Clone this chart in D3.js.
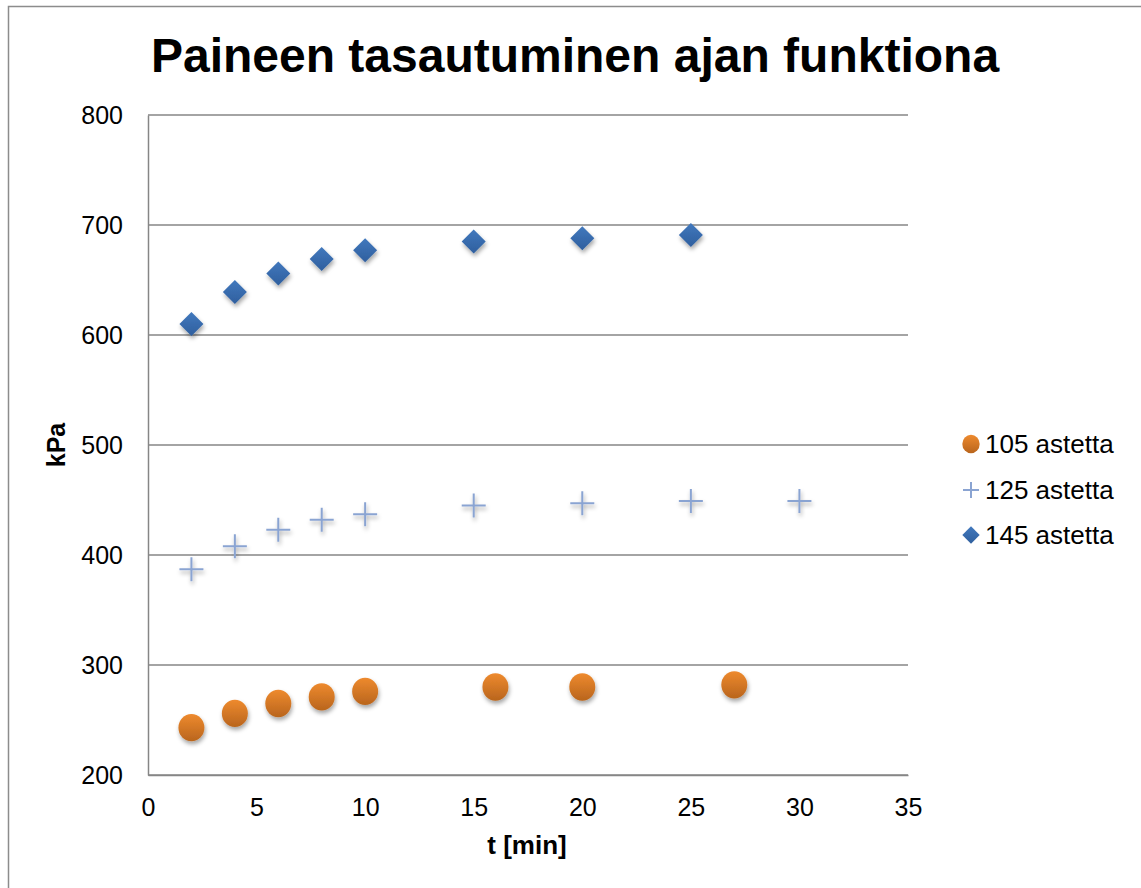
<!DOCTYPE html>
<html>
<head>
<meta charset="utf-8">
<script src="https://cdn.jsdelivr.net/npm/d3@7"></script>
<style>
  body { margin: 0; background: #fff; }
  text { font-family: "Liberation Sans", Arial, sans-serif; }
</style>
</head>
<body>
<svg id="chart" width="1141" height="888"></svg>
<script>
// data
const seriesNames = ["105 astetta", "125 astetta", "145 astetta"];
const t105 = [2, 4, 6, 8, 10, 16, 20, 27];
const p105 = [243, 256, 265, 271, 276, 280, 280, 282];
const t125 = [2, 4, 6, 8, 10, 15, 20, 25, 30];
const p125 = [387, 408, 423, 432, 437, 445, 447, 449, 449];
const t145 = [2, 4, 6, 8, 10, 15, 20, 25];
const p145 = [610, 639, 656, 669, 677, 685, 688, 691];
const xTicks = [0, 5, 10, 15, 20, 25, 30, 35];
const yTicks = [200, 300, 400, 500, 600, 700, 800];

const svg = d3.select("#chart");
const margin = { left: 148, top: 115, right: 908, bottom: 775 };

const x = d3.scaleLinear().domain([0, 35]).range([margin.left, margin.right]);
const y = d3.scaleLinear().domain([200, 800]).range([margin.bottom, margin.top]);

const defs = svg.append("defs");
const shadow = defs.append("filter").attr("id", "shadow")
    .attr("x", "-50%").attr("y", "-50%").attr("width", "200%").attr("height", "200%");
shadow.append("feDropShadow").attr("dx", 1).attr("dy", 3).attr("stdDeviation", 2)
    .attr("flood-color", "#000").attr("flood-opacity", 0.35);

const orangeGrad = defs.append("linearGradient").attr("id", "orange")
    .attr("x1", 0).attr("y1", 0).attr("x2", 0).attr("y2", 1);
orangeGrad.append("stop").attr("offset", "0%").attr("stop-color", "#ee8a2e");
orangeGrad.append("stop").attr("offset", "100%").attr("stop-color", "#b9651d");

const blueGrad = defs.append("linearGradient").attr("id", "blue")
    .attr("x1", 0).attr("y1", 0).attr("x2", 0).attr("y2", 1);
blueGrad.append("stop").attr("offset", "0%").attr("stop-color", "#4178bd");
blueGrad.append("stop").attr("offset", "100%").attr("stop-color", "#2f5f9e");

// outer chart border
svg.append("rect").attr("x", 8.5).attr("y", 6.5).attr("width", 1150).attr("height", 900)
    .attr("fill", "none").attr("stroke", "#8c8c8c").attr("stroke-width", 1.5);

// title
svg.append("text").attr("x", 575).attr("y", 72).attr("text-anchor", "middle")
    .attr("font-size", 48).attr("font-weight", "bold").attr("fill", "#000")
    .text("Paineen tasautuminen ajan funktiona");

// gridlines
svg.append("g").selectAll("line").data(yTicks).enter().append("line")
    .attr("x1", x(0)).attr("x2", x(35))
    .attr("y1", (d) => y(d)).attr("y2", (d) => y(d))
    .attr("stroke", "#868686").attr("stroke-width", 1.5);

// axes
const yAxis = d3.axisLeft(y).tickValues(yTicks).tickSize(0).tickPadding(25);
const gy = svg.append("g").attr("transform", `translate(${x(0)},0)`).call(yAxis);
const xAxis = d3.axisBottom(x).tickValues(xTicks).tickSize(0).tickPadding(23);
const gx = svg.append("g").attr("transform", `translate(0,${y(200)})`).call(xAxis);
[gx, gy].forEach((g) => {
    g.attr("font-size", 25).attr("font-family", "Liberation Sans, Arial, sans-serif");
    g.select(".domain").attr("stroke", "#868686").attr("stroke-width", 1.5);
    g.selectAll("text").attr("fill", "#000");
});

// axis titles
svg.append("text").attr("x", 527).attr("y", 854).attr("text-anchor", "middle")
    .attr("font-size", 26).attr("font-weight", "bold").text("t [min]");
svg.append("text").attr("transform", "translate(65,445) rotate(-90)")
    .attr("text-anchor", "middle").attr("font-size", 25).attr("font-weight", "bold").text("kPa");

// markers
function circleMark(g, cx, cy, r, fx) {
    g.append("ellipse").attr("cx", cx).attr("cy", cy).attr("rx", r).attr("ry", r * 1.05)
        .attr("fill", "url(#orange)").attr("filter", fx ? "url(#shadow)" : null);
}
function crossMark(g, cx, cy, s, fx) {
    g.append("path").attr("d", `M${cx - s},${cy}H${cx + s}M${cx},${cy - s}V${cy + s}`)
        .attr("stroke", "#8aa4d2").attr("stroke-width", 2).attr("fill", "none")
        .attr("filter", fx ? "url(#shadow)" : null);
}
function diamondMark(g, cx, cy, s, fx) {
    g.append("path").attr("d", `M${cx},${cy - s}L${cx + s},${cy}L${cx},${cy + s}L${cx - s},${cy}Z`)
        .attr("fill", "url(#blue)").attr("filter", fx ? "url(#shadow)" : null);
}

const marks = svg.append("g");
t105.forEach((t, i) => circleMark(marks, x(t), y(p105[i]), 13, true));
t125.forEach((t, i) => crossMark(marks, x(t), y(p125[i]), 12, true));
t145.forEach((t, i) => diamondMark(marks, x(t), y(p145[i]), 12, true));

// legend
const legendY = [444, 490, 535];
const lg = svg.append("g");
circleMark(lg, 971, legendY[0], 8.7, false);
crossMark(lg, 971, legendY[1], 8, false);
diamondMark(lg, 971, legendY[2], 8.7, false);
lg.selectAll("text").data(seriesNames).enter().append("text")
    .attr("x", 985).attr("y", (d, i) => legendY[i]).attr("dy", "0.35em")
    .attr("font-size", 26).attr("fill", "#000").text((d) => d);
</script>
</body>
</html>
